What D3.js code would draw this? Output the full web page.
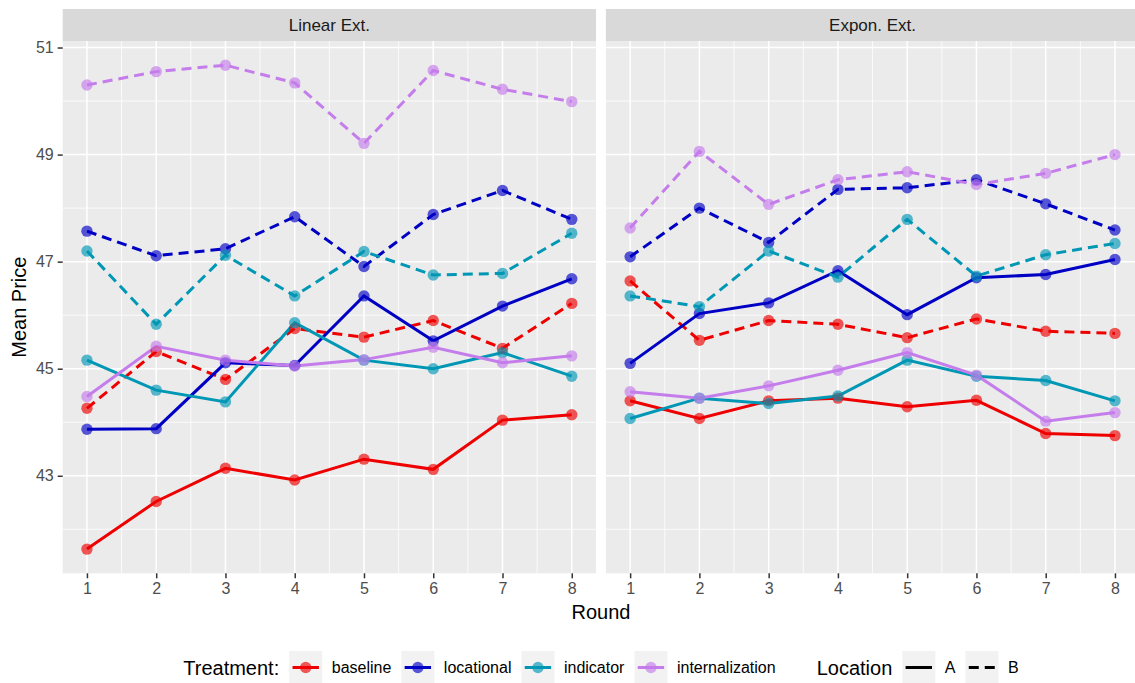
<!DOCTYPE html>
<html>
<head>
<meta charset="utf-8">
<script src="https://cdn.jsdelivr.net/npm/d3@7"></script>
<style>
  body { margin: 0; background: #ffffff; }
  text { font-family: "Liberation Sans", Arial, sans-serif; }
</style>
</head>
<body>
<svg id="chart" width="1135" height="683"></svg>
<script>
// ---- data ----
const rounds = [1, 2, 3, 4, 5, 6, 7, 8];
const panels = ["Linear Ext.", "Expon. Ext."];
const treatments = ["baseline", "locational", "indicator", "internalization"];
const treatmentColors = ["#EE0000", "#0000C4", "#0097B5", "#C47DEB"];
const locations = ["A", "B"];
const yBreaks = [43, 45, 47, 49, 51];
const yMinorBreaks = [42, 44, 46, 48, 50];
const xMinorBreaks = [1.5, 2.5, 3.5, 4.5, 5.5, 6.5, 7.5];

// Linear Ext.
const linearBaselineA        = [41.63, 42.52, 43.14, 42.92, 43.31, 43.12, 44.04, 44.14];
const linearBaselineB        = [44.26, 45.32, 44.80, 45.75, 45.59, 45.90, 45.38, 46.22];
const linearLocationalA      = [43.87, 43.88, 45.11, 45.06, 46.36, 45.52, 46.17, 46.68];
const linearLocationalB      = [47.57, 47.11, 47.24, 47.84, 46.91, 47.88, 48.33, 47.79];
const linearIndicatorA       = [45.16, 44.60, 44.38, 45.86, 45.16, 45.00, 45.30, 44.86];
const linearIndicatorB       = [47.20, 45.83, 47.12, 46.36, 47.19, 46.75, 46.78, 47.53];
const linearInternalizationA = [44.48, 45.42, 45.16, 45.05, 45.17, 45.40, 45.11, 45.24];
const linearInternalizationB = [50.30, 50.55, 50.67, 50.34, 49.21, 50.57, 50.22, 49.99];

// Expon. Ext.
const exponBaselineA        = [44.40, 44.07, 44.40, 44.45, 44.29, 44.41, 43.79, 43.75];
const exponBaselineB        = [46.64, 45.53, 45.90, 45.83, 45.58, 45.93, 45.70, 45.66];
const exponLocationalA      = [45.10, 46.03, 46.23, 46.83, 46.01, 46.70, 46.76, 47.04];
const exponLocationalB      = [47.09, 48.00, 47.36, 48.35, 48.38, 48.53, 48.08, 47.59];
const exponIndicatorA       = [44.07, 44.45, 44.35, 44.49, 45.16, 44.86, 44.78, 44.40];
const exponIndicatorB       = [46.36, 46.16, 47.20, 46.71, 47.79, 46.73, 47.13, 47.34];
const exponInternalizationA = [44.57, 44.45, 44.68, 44.97, 45.30, 44.88, 44.02, 44.18];
const exponInternalizationB = [47.63, 49.06, 48.07, 48.53, 48.68, 48.44, 48.65, 49.00];

const series = [
  { panel: 0, t: 0, loc: "A", values: linearBaselineA },
  { panel: 0, t: 0, loc: "B", values: linearBaselineB },
  { panel: 0, t: 1, loc: "A", values: linearLocationalA },
  { panel: 0, t: 1, loc: "B", values: linearLocationalB },
  { panel: 0, t: 2, loc: "A", values: linearIndicatorA },
  { panel: 0, t: 2, loc: "B", values: linearIndicatorB },
  { panel: 0, t: 3, loc: "A", values: linearInternalizationA },
  { panel: 0, t: 3, loc: "B", values: linearInternalizationB },
  { panel: 1, t: 0, loc: "A", values: exponBaselineA },
  { panel: 1, t: 0, loc: "B", values: exponBaselineB },
  { panel: 1, t: 1, loc: "A", values: exponLocationalA },
  { panel: 1, t: 1, loc: "B", values: exponLocationalB },
  { panel: 1, t: 2, loc: "A", values: exponIndicatorA },
  { panel: 1, t: 2, loc: "B", values: exponIndicatorB },
  { panel: 1, t: 3, loc: "A", values: exponInternalizationA },
  { panel: 1, t: 3, loc: "B", values: exponInternalizationB }
];

// ---- layout ----
const svg = d3.select("#chart");
const stripTop = 9, panelTop = 41, panelBottom = 573.3;
const panelW = 533.3;
const panelX = [62.7, 605.9];
const dashPattern = "10,6";
const lineW = 3, pointR = 5.7;

const allVals = series.flatMap(s => s.values);
const [vMin, vMax] = d3.extent(allVals);
const pad = (vMax - vMin) * 0.05;
const y = d3.scaleLinear().domain([vMin - pad, vMax + pad]).range([panelBottom, panelTop]);

const xScales = panelX.map(x0 => d3.scaleLinear()
  .domain([1 - 0.35, 8 + 0.35]).range([x0, x0 + panelW]));

panels.forEach((name, p) => {
  const x = xScales[p];
  const x0 = panelX[p];
  const g = svg.append("g");

  // strip
  g.append("rect").attr("x", x0).attr("y", stripTop)
    .attr("width", panelW).attr("height", panelTop - stripTop).attr("fill", "#D9D9D9");
  g.append("text").attr("x", x0 + panelW / 2).attr("y", (stripTop + panelTop) / 2)
    .attr("text-anchor", "middle").attr("dominant-baseline", "central")
    .attr("font-size", 17).attr("fill", "#1A1A1A").text(name);

  // panel background
  g.append("rect").attr("x", x0).attr("y", panelTop)
    .attr("width", panelW).attr("height", panelBottom - panelTop).attr("fill", "#EBEBEB");

  // minor grid
  g.selectAll(".ymin").data(yMinorBreaks).join("line")
    .attr("x1", x0).attr("x2", x0 + panelW)
    .attr("y1", d => y(d)).attr("y2", d => y(d))
    .attr("stroke", "#ffffff").attr("stroke-width", 0.8);
  g.selectAll(".xmin").data(xMinorBreaks).join("line")
    .attr("y1", panelTop).attr("y2", panelBottom)
    .attr("x1", d => x(d)).attr("x2", d => x(d))
    .attr("stroke", "#ffffff").attr("stroke-width", 0.8);
  // major grid
  g.selectAll(".ymaj").data(yBreaks).join("line")
    .attr("x1", x0).attr("x2", x0 + panelW)
    .attr("y1", d => y(d)).attr("y2", d => y(d))
    .attr("stroke", "#ffffff").attr("stroke-width", 1.5);
  g.selectAll(".xmaj").data(rounds).join("line")
    .attr("y1", panelTop).attr("y2", panelBottom)
    .attr("x1", d => x(d)).attr("x2", d => x(d))
    .attr("stroke", "#ffffff").attr("stroke-width", 1.5);

  // x axis
  const xAxis = d3.axisBottom(x).tickValues(rounds).tickSize(5).tickPadding(4).tickFormat(d3.format("d"));
  const xa = svg.append("g").attr("transform", `translate(0,${panelBottom})`).call(xAxis);
  xa.select(".domain").remove();
  xa.selectAll(".tick line").attr("stroke", "#333333").attr("stroke-width", 1.5);
  xa.selectAll(".tick text").attr("font-size", 16).attr("fill", "#4D4D4D")
    .attr("font-family", "Liberation Sans, Arial, sans-serif");

  if (p === 0) {
    const yAxis = d3.axisLeft(y).tickValues(yBreaks).tickSize(5).tickPadding(4).tickFormat(d3.format("d"));
    const ya = svg.append("g").attr("transform", `translate(${x0},0)`).call(yAxis);
    ya.select(".domain").remove();
    ya.selectAll(".tick line").attr("stroke", "#333333").attr("stroke-width", 1.5);
    ya.selectAll(".tick text").attr("font-size", 16).attr("fill", "#4D4D4D")
      .attr("font-family", "Liberation Sans, Arial, sans-serif");
  }

  // lines
  const line = d3.line().x((d, i) => x(rounds[i])).y(d => y(d));
  const ps = series.filter(s => s.panel === p);
  g.selectAll(".series").data(ps).join("path")
    .attr("d", s => line(s.values))
    .attr("fill", "none")
    .attr("stroke", s => treatmentColors[s.t])
    .attr("stroke-width", lineW)
    .attr("stroke-dasharray", s => s.loc === "B" ? dashPattern : null);

  // points
  ps.forEach(s => {
    g.selectAll(null).data(s.values).join("circle")
      .attr("cx", (d, i) => x(rounds[i])).attr("cy", d => y(d))
      .attr("r", pointR).attr("fill", treatmentColors[s.t]).attr("fill-opacity", 0.65);
  });
});

// axis titles
const plotCenter = (panelX[0] + panelX[1] + panelW) / 2;
svg.append("text").attr("x", plotCenter).attr("y", 619)
  .attr("text-anchor", "middle").attr("font-size", 20).attr("fill", "#000").text("Round");
svg.append("text")
  .attr("transform", `translate(26,${(panelTop + panelBottom) / 2}) rotate(-90)`)
  .attr("text-anchor", "middle").attr("font-size", 20).attr("fill", "#000").text("Mean Price");

// ---- legend ----
const legY = 667.5, keyS = 33;
const leg = svg.append("g");
let cx = 0;
function addText(str, size) {
  const t = leg.append("text").attr("x", cx).attr("y", legY)
    .attr("dominant-baseline", "central").attr("font-size", size).attr("fill", "#000").text(str);
  cx += t.node().getComputedTextLength();
  return t;
}
function addKey(color, dashed, withPoint) {
  const k = leg.append("g").attr("transform", `translate(${cx},${legY - keyS / 2})`);
  k.append("rect").attr("width", keyS).attr("height", keyS).attr("fill", "#F2F2F2");
  k.append("line").attr("x1", keyS * 0.1).attr("x2", keyS * 0.9)
    .attr("y1", keyS / 2).attr("y2", keyS / 2)
    .attr("stroke", color).attr("stroke-width", lineW)
    .attr("stroke-dasharray", dashed ? dashPattern : null);
  if (withPoint) {
    k.append("circle").attr("cx", keyS / 2).attr("cy", keyS / 2).attr("r", pointR)
      .attr("fill", color).attr("fill-opacity", 0.65);
  }
  cx += keyS;
}
addText("Treatment:", 20);
treatments.forEach((t, i) => {
  cx += 10;
  addKey(treatmentColors[i], false, true);
  cx += 9.5;
  addText(t, 16);
});
cx += 41;
addText("Location", 20);
locations.forEach((l, i) => {
  cx += 10;
  addKey("#000000", i === 1, false);
  cx += 9.5;
  addText(l, 16);
});
leg.attr("transform", `translate(${plotCenter - cx / 2},0)`);
</script>
</body>
</html>
